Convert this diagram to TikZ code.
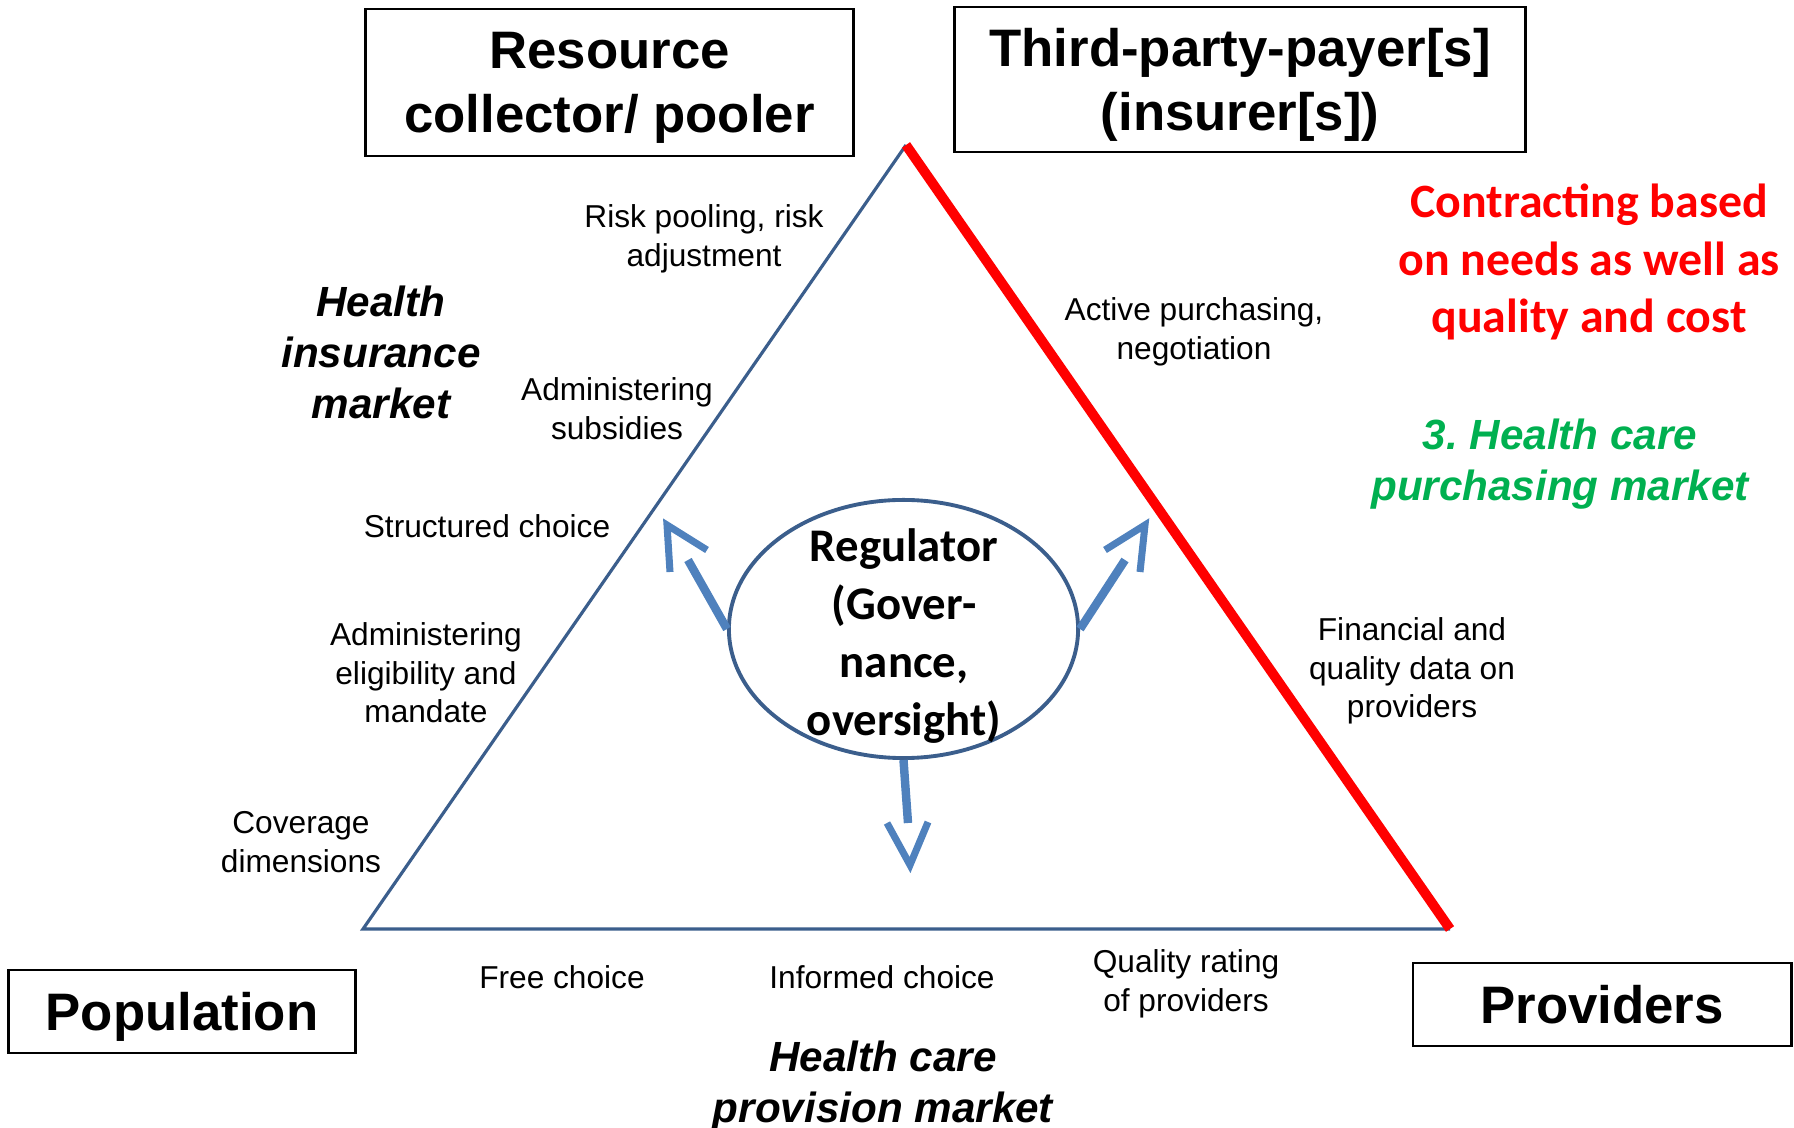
\documentclass[tikz,border=0pt]{standalone}
\usepackage{fontspec}
\setmainfont{Liberation Sans}
\newfontfamily\calibrifont{Carlito}
\usepackage{tikz}
\usetikzlibrary{shapes}
\definecolor{triblue}{HTML}{3B5E8C}
\definecolor{govblue}{HTML}{4F81BD}
\definecolor{mktgreen}{HTML}{00B050}

\begin{document}
\begin{tikzpicture}[x=0.01cm,y=-0.01cm,line join=miter]

	\tikzstyle{actor}=[rectangle,draw=black,line width=0.8pt,inner sep=0pt,text depth=0pt,align=center,font=\bfseries\fontsize{15}{18.1}\selectfont]
	\tikzstyle{task}=[align=center,inner sep=0pt,font=\fontsize{9}{11}\selectfont]
	\tikzstyle{market}=[align=center,inner sep=0pt,font=\bfseries\itshape\fontsize{12}{14.5}\selectfont]
	\tikzstyle{side}=[draw=triblue,line width=0.9pt]
	\tikzstyle{payside}=[draw=red,line width=2.8pt]
	\tikzstyle{govshaft}=[draw=govblue,line width=2.4pt]
	\tikzstyle{govhead}=[draw=govblue,line width=2pt]

	\useasboundingbox (0,0) rectangle (1794,1128);

	\coordinate (apex) at (906,145);
	\coordinate (popc) at (363,929);
	\coordinate (provc) at (1450,929);

	\draw [side] (provc) -- (popc) -- (apex);
	\draw [payside] (apex) -- (provc);

	\node [actor,minimum width=4.87cm,minimum height=1.47cm] (pooler) at (609.5,82.5) {Resource\\collector/ pooler};
	\node [actor,minimum width=5.70cm,minimum height=1.45cm] (payer) at (1240,79.5) {Third-party-payer[s]\\(insurer[s])};
	\node [actor,minimum width=3.46cm,minimum height=0.83cm] (pop) at (182,1011.5) {Population};
	\node [actor,minimum width=3.78cm,minimum height=0.83cm] (prov) at (1602,1004.5) {Providers};

	\node [ellipse,draw=triblue,line width=1.1pt,fill=white,minimum width=3.49cm,minimum height=2.58cm,inner sep=0pt] (reg) at (903.5,629) {};
	\node [align=center,inner sep=0pt,font=\calibrifont\bfseries\fontsize{13.3}{16.5}\selectfont] (regtxt) at (904,636) {Regulator\\(Gover-\\nance,\\oversight)};

	\coordinate (lend) at (688,560);
	\coordinate (ltip) at (667,525);
	\coordinate (rend) at (1125,560);
	\coordinate (rtip) at (1145,525);
	\coordinate (bend) at (908,823);
	\coordinate (btip) at (910,865);

	\draw [govshaft] (reg.west) -- (lend);
	\draw [govhead] (ltip) ++(40,25) -- (ltip) -- ++(3,47);
	\draw [govshaft] (reg.east) -- (rend);
	\draw [govhead] (rtip) ++(-40,25) -- (rtip) -- ++(-5,47);
	\draw [govshaft] (reg.south) -- (bend);
	\draw [govhead] (btip) ++(-23,-42) -- (btip) -- ++(18,-43);

	\node [task] (risk) at (704,239) {Risk pooling, risk\\adjustment};
	\node [task] (subs) at (617,409) {Administering\\subsidies};
	\node [task] (struct) at (487,526) {Structured choice};
	\node [task] (elig) at (426,673) {Administering\\eligibility and\\mandate};
	\node [task] (cover) at (301,842) {Coverage\\dimensions};
	\node [task] (active) at (1194,332) {Active purchasing,\\negotiation};
	\node [task] (fin) at (1412,671) {Financial and\\quality data on\\providers};
	\node [task] (free) at (562,977) {Free choice};
	\node [task] (informed) at (882,977) {Informed choice};
	\node [task] (rating) at (1186,984) {Quality rating\\of providers};

	\node [market] (insmkt) at (381,352) {Health\\insurance\\market};
	\node [market] (provmkt) at (883,1086) {Health care\\provision market};
	\node [market,text=mktgreen] (purchmkt) at (1560,464) {3.\ Health care\\purchasing market};
	\node [align=center,inner sep=0pt,text=red,font=\calibrifont\bfseries\fontsize{13.6}{16.4}\selectfont] (contract) at (1589,262) {Contracting based\\on needs as well as\\quality and cost};

\end{tikzpicture}
\end{document}
